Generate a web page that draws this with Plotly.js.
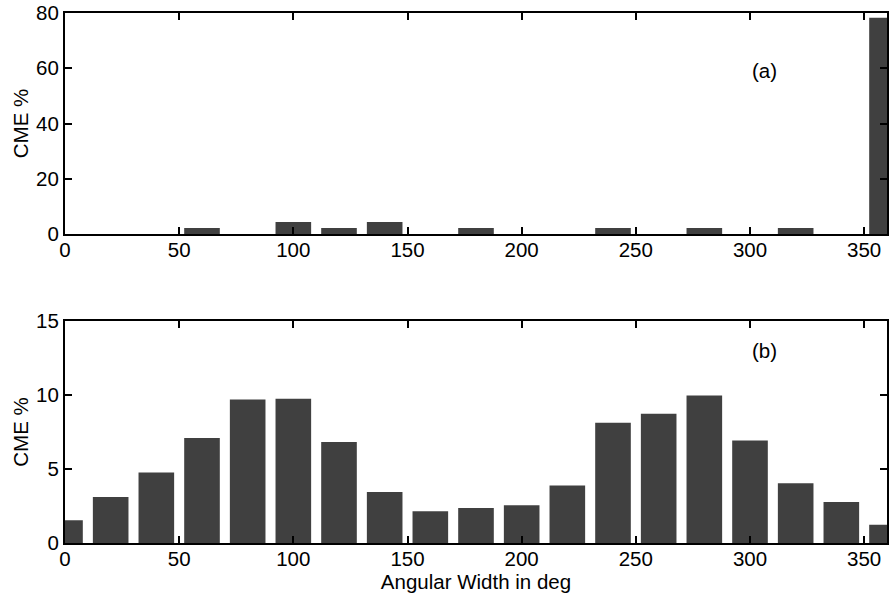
<!DOCTYPE html>
<html>
<head>
<meta charset="utf-8">
<script src="https://cdn.plot.ly/plotly-3.0.1.min.js"></script>
<style>html,body{margin:0;padding:0;background:#fff;}#chart{width:890px;height:599px;}</style>
</head>
<body>
<div id="chart"></div>
<script>
// Bin centres (deg)
const binCenters = [0,20,40,60,80,100,120,140,160,180,200,220,240,260,280,300,320,340,360];
// Panel (a) CME %
const cmePctA = [0,0,0,2.17,0,4.35,2.17,4.35,0,2.17,0,0,2.17,0,2.17,0,2.17,0,78.26];
// Panel (b) CME %
const cmePctB = [1.53,3.11,4.76,7.1,9.7,9.74,6.83,3.45,2.14,2.37,2.55,3.88,8.12,8.73,9.97,6.93,4.04,2.77,1.24];
const xTicks = [0,50,100,150,200,250,300,350];
const yTicksA = [0,20,40,60,80];
const yTicksB = [0,5,10,15];

const font = {family: 'Liberation Sans, Arial, sans-serif', size: 20.5, color: '#000'};
const barColor = '#404040';
const barWidth = 15.6;

const traces = [
  {type:'bar', x: binCenters, y: cmePctA, width: binCenters.map(()=>barWidth),
   marker:{color:barColor, line:{width:0}}, xaxis:'x', yaxis:'y', hoverinfo:'none'},
  {type:'bar', x: binCenters, y: cmePctB, width: binCenters.map(()=>barWidth),
   marker:{color:barColor, line:{width:0}}, xaxis:'x2', yaxis:'y2', hoverinfo:'none'}
];

const axCommon = {
  showgrid:false, zeroline:false, showline:true, linecolor:'#000', linewidth:2,
  mirror:'ticks', ticks:'inside', ticklen:7, tickwidth:2, tickcolor:'#000',
  tickfont: font, fixedrange:true
};

const layout = {
  width: 890, height: 599,
  margin: {l:65, r:3, t:13, b:56},
  paper_bgcolor:'#fff', plot_bgcolor:'#fff',
  showlegend:false,
  font: font,
  xaxis: Object.assign({}, axCommon, {domain:[0,1], range:[0,360], tickvals:xTicks, anchor:'y', ticklabelstandoff:-4}),
  yaxis: Object.assign({}, axCommon, {domain:[0.583,1], range:[0,80], tickvals:yTicksA, anchor:'x',
          title:{text:'CME %', font:font, standoff:2}}),
  xaxis2: Object.assign({}, axCommon, {domain:[0,1], range:[0,360], tickvals:xTicks, anchor:'y2', ticklabelstandoff:-4,
          title:{text:'Angular Width in deg', font:font, standoff:0}}),
  yaxis2: Object.assign({}, axCommon, {domain:[0,0.419], range:[0,15], tickvals:yTicksB, anchor:'x2',
          title:{text:'CME %', font:font, standoff:2}}),
  annotations: [
    {text:'(a)', xref:'x', yref:'y', x:306.5, y:59.2, showarrow:false, font:font},
    {text:'(b)', xref:'x2', yref:'y2', x:306.5, y:13.0, showarrow:false, font:font}
  ]
};

Plotly.newPlot('chart', traces, layout, {staticPlot:true, displayModeBar:false});
</script>
</body>
</html>
